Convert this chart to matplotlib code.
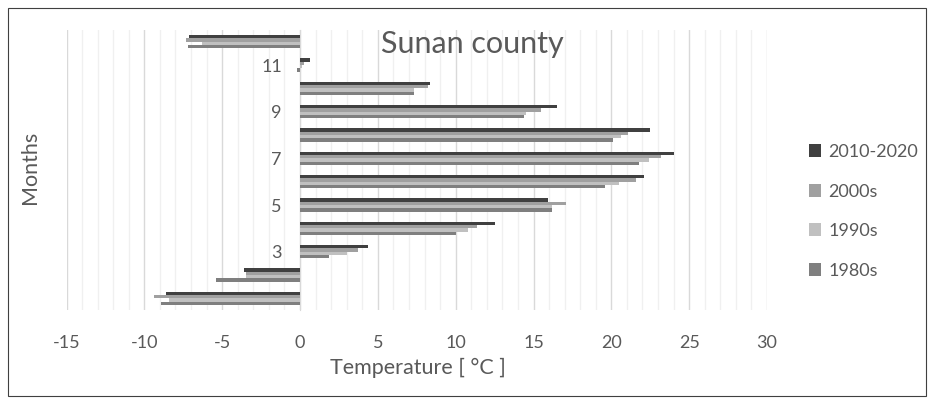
import matplotlib
matplotlib.use('Agg')
import matplotlib.pyplot as plt
from matplotlib.patches import Rectangle
import numpy as np

plt.rcParams['font.family'] = ['Lato', 'DejaVu Sans']
plt.rcParams['axes.unicode_minus'] = False
text_color = '#595959'

# monthly mean temperature, Sunan county
months = np.arange(1, 13)
series_names = ['1980s', '1990s', '2000s', '2010-2020']
t_1980s = [-8.9, -5.4, 1.85, 10.0, 16.2, 19.6, 21.8, 20.1, 14.4, 7.3, -0.2, -7.2]
t_1990s = [-8.4, -3.47, 3.0, 10.8, 16.2, 20.5, 22.4, 20.6, 14.5, 7.35, 0.1, -6.3]
t_2000s = [-9.35, -3.47, 3.7, 11.4, 17.1, 21.6, 23.2, 21.1, 15.5, 8.2, 0.28, -7.3]
t_2010s = [-8.6, -3.6, 4.4, 12.5, 15.9, 22.1, 24.0, 22.5, 16.5, 8.35, 0.64, -7.1]
month_ticks = [1, 3, 5, 7, 9, 11]
temp_ticks = [-15, -10, -5, 0, 5, 10, 15, 20, 25, 30]

colors = ['#7f7f7f', '#c0c0c0', '#a0a0a0', '#404040']
all_series = [t_1980s, t_1990s, t_2000s, t_2010s]

fig = plt.figure(figsize=(9.34, 4.11), dpi=100)
ax = fig.add_axes([0.0712, 0.2457, 0.75, 0.6813])

bar_h = 0.14
offsets = [-1.5, -0.5, 0.5, 1.5]
handles = []
for vals, off, col, name in zip(all_series, offsets, colors, series_names):
    b = ax.barh(months + off * bar_h, vals, height=bar_h, color=col, label=name, zorder=3)
    handles.append(b)

ax.set_xlim(-15, 30)
ax.set_ylim(0.5, 12.5)
ax.set_xticks(temp_ticks)
ax.set_xticks(np.arange(-15, 31, 1), minor=True)
ax.set_yticks(month_ticks)
ax.grid(which='major', axis='x', color='#d9d9d9', linewidth=1.0, zorder=0)
ax.grid(which='minor', axis='x', color='#f0f0f0', linewidth=1.0, zorder=0)
ax.tick_params(axis='x', which='both', length=0, pad=18, labelsize=13, labelcolor=text_color)
ax.tick_params(axis='y', length=0, pad=13, labelsize=13, labelcolor=text_color)

for s in ['top', 'right', 'bottom']:
    ax.spines[s].set_visible(False)
ax.spines['left'].set_position(('data', 0))
ax.spines['left'].set_color('#d9d9d9')

ax.set_xlabel('Temperature [ °C ]', fontsize=15.5, color=text_color, va='center')
ax.xaxis.set_label_coords(0.501, -0.207)
ax.set_ylabel('Months', fontsize=15.5, color=text_color, va='center')
ax.yaxis.set_label_coords(-0.052, 0.51)

fig.text(0.506, 0.893, 'Sunan county', fontsize=22, color=text_color, ha='center', va='center')

leg = fig.legend(handles[::-1], series_names[::-1], loc='upper left',
                 bbox_to_anchor=(0.858, 0.667), frameon=False, fontsize=13,
                 handlelength=0.7, handleheight=0.7, handletextpad=0.4,
                 labelspacing=1.3, borderaxespad=0)
for t in leg.get_texts():
    t.set_color(text_color)

fig.patches.append(Rectangle((8 / 934, 15 / 411), 918 / 934, 388 / 411, transform=fig.transFigure,
                             fill=False, edgecolor='#404040', linewidth=0.8))

fig.savefig('out.png', dpi=100)
